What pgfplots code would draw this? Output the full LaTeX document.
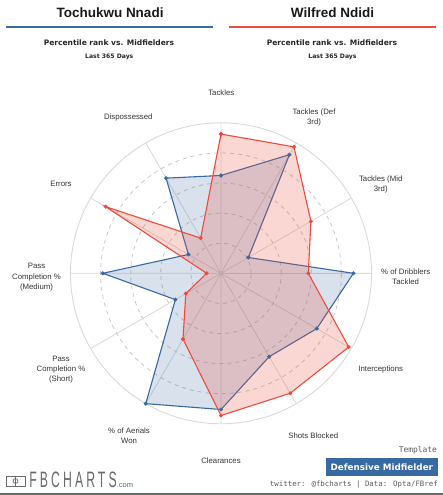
\documentclass[border=0pt]{standalone}
\usepackage{fontspec}
\setmainfont{Liberation Sans}
\newfontfamily\dejavu{DejaVu Sans}
\newfontfamily\dejamono{DejaVu Sans Mono}
\newfontfamily\logofont[LetterSpace=25]{Liberation Sans}
\usepackage{pgfplots}
\pgfplotsset{compat=1.18}
\usepgfplotslibrary{polar}
\definecolor{nblue}{HTML}{3A68A1}
\definecolor{nred}{HTML}{EF4A3C}
\definecolor{barblue}{HTML}{3B6BA5}
\definecolor{barred}{HTML}{EE4B3D}
\definecolor{spokecol}{HTML}{D9D9D9}
\definecolor{gridcol}{HTML}{C8C8C8}
\definecolor{labcol}{HTML}{333333}
\definecolor{boxblue}{HTML}{3769A2}
\definecolor{logogray}{HTML}{6A6A6A}
\begin{document}
\begin{tikzpicture}[x=1pt,y=1pt]
\useasboundingbox (0,0) rectangle (443,495);
% headers
\node[font=\fontsize{13.5}{15}\selectfont\bfseries, text=black!90] at (110,495-12.7) {Tochukwu Nnadi};
\node[font=\fontsize{13.5}{15}\selectfont\bfseries, text=black!90] at (332.5,495-12.7) {Wilfred Ndidi};
\fill[barblue] (6,495-28.3) rectangle (212.7,495-25.7);
\fill[barred] (229,495-28.3) rectangle (436,495-25.7);
\node[font=\dejavu\fontsize{7.5}{9}\selectfont\bfseries, text=black!85] at (109,495-42.3) {Percentile rank vs. Midfielders};
\node[font=\dejavu\fontsize{7.5}{9}\selectfont\bfseries, text=black!85] at (332,495-42.3) {Percentile rank vs. Midfielders};
\node[font=\dejavu\fontsize{6.1}{8}\selectfont\bfseries, text=black!85] at (109.3,495-56.7) {Last 365 Days};
\node[font=\dejavu\fontsize{6.1}{8}\selectfont\bfseries, text=black!85] at (332.5,495-56.7) {Last 365 Days};

\begin{polaraxis}[
  at={(221pt,221.7pt)}, anchor=center,
  scale only axis, width=301pt, height=301pt,
  ymin=0, ymax=100,
  xtick={0,30,...,330}, ytick={20,40,60,80},
  xticklabels={}, yticklabels={},
  major tick length=0pt,
  grid=major,
  major x grid style={spokecol, line width=0.8pt},
  major y grid style={gridcol, line width=0.8pt, dash pattern=on 4pt off 4pt},
  axis line style={spokecol, line width=0.9pt},
  clip=false,
]
\addplot[nblue, line width=1.1pt, fill=nblue, fill opacity=0.2,
  mark=*, mark size=1.4pt, mark options={fill=nblue, fill opacity=1}]
  coordinates {(90,65) (60,91) (30,21) (0,88) (-30,73.5) (-60,64) (-90,90.5) (-120,100) (-150,35) (180,78.5) (150,25) (120,73) (90,65)};
\addplot[nred, line width=1.1pt, fill=nred, fill opacity=0.22,
  mark=*, mark size=1.4pt, mark options={fill=nred, fill opacity=1}]
  coordinates {(90,92.5) (60,97) (30,69) (0,58) (-30,98) (-60,92) (-90,94.5) (-120,50.5) (-150,27) (180,9.5) (150,88.5) (120,27) (90,92.5)};
\end{polaraxis}

% category labels
\tikzset{lab/.style={font=\fontsize{7.8}{10.3}\selectfont, text=labcol, align=center, inner sep=0pt}}
\node[lab] at (221.3,495-92.3) {Tackles};
\node[lab] at (314,495-117.3) {Tackles (Def\\3rd)};
\node[lab] at (380.7,495-184.2) {Tackles (Mid\\3rd)};
\node[lab] at (405.7,495-276.9) {\% of Dribblers\\Tackled};
\node[lab] at (380.7,495-369.3) {Interceptions};
\node[lab] at (313.3,495-435.7) {Shots Blocked};
\node[lab] at (221,495-461) {Clearances};
\node[lab] at (129,495-436) {\% of Aerials\\Won};
\node[lab] at (61,495-369.7) {Pass\\Completion \%\\(Short)};
\node[lab] at (36.5,495-277.3) {Pass\\Completion \%\\(Medium)};
\node[lab] at (61,495-184.3) {Errors};
\node[lab] at (128.3,495-117) {Dispossessed};

% footer
\node[font=\dejamono\fontsize{7.9}{9}\selectfont, text=black!65, anchor=east, inner sep=0pt] at (437,495-450.7) {Template};
\fill[boxblue] (326,495-475.7) rectangle (437.7,495-458.3);
\node[font=\dejavu\fontsize{8.8}{10}\selectfont\bfseries, text=white] at (381.8,495-467) {Defensive Midfielder};
\node[font=\dejamono\fontsize{7.4}{9}\selectfont, text=black!65, anchor=east, inner sep=0pt] at (438,495-484.5) {twitter: @fbcharts | Data: Opta/FBref};
\fill[logogray] (0,0) rectangle (443,1.8);
% logo
\draw[logogray, line width=0.8pt] (6,495-486) rectangle (25,495-476);
\draw[logogray, line width=0.7pt] (15.5,495-486) -- (15.5,495-476);
\draw[logogray, line width=0.7pt] (15.5,495-481) circle (2.4);
\node[font=\logofont\fontsize{22.3}{23}\selectfont, text=logogray, anchor=base west, inner sep=0pt, xscale=0.55, transform shape] at (29.3,495-488) {FBCHARTS};
\node[font=\fontsize{7.5}{8}\selectfont, text=nblue!80!gray, anchor=base west, inner sep=0pt] at (116.7,495-487) {.com};
\end{tikzpicture}
\end{document}
